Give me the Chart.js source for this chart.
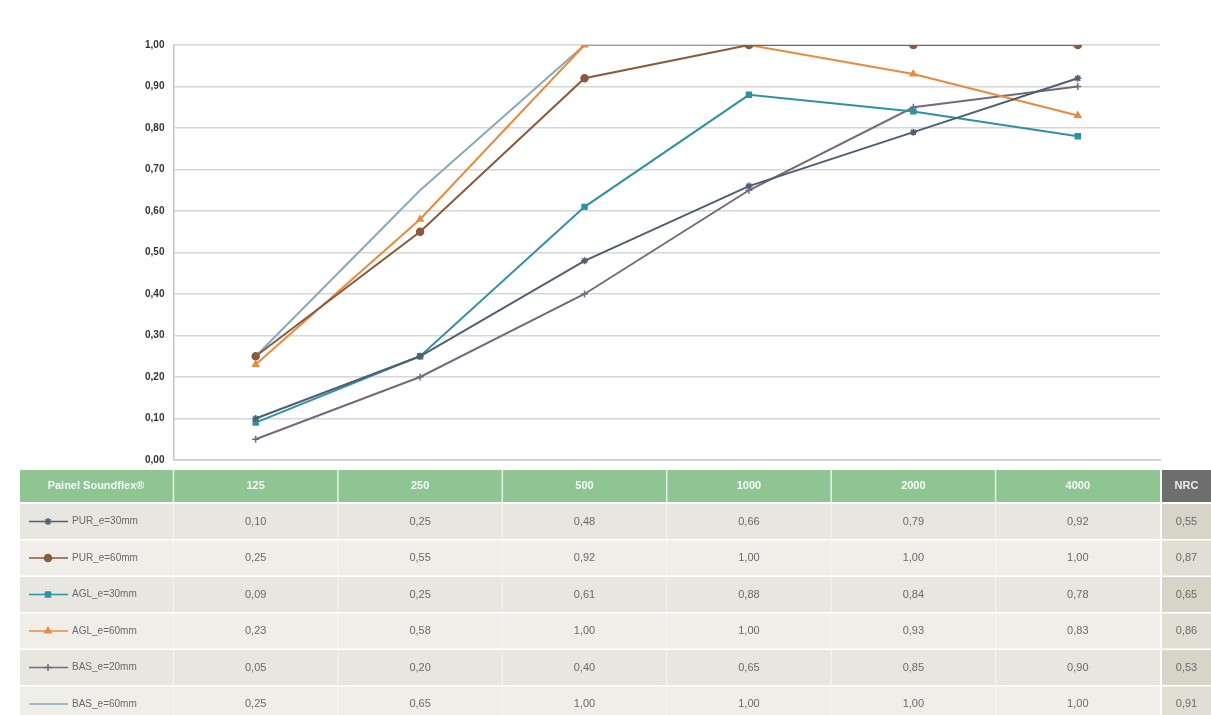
<!DOCTYPE html>
<html>
<head>
<meta charset="utf-8">
<script src="https://cdn.jsdelivr.net/npm/chart.js@4.4.1/dist/chart.umd.min.js"></script>
<style>
  html, body { margin: 0; padding: 0; background: #ffffff; }
  #wrap { position: relative; width: 1211px; height: 715px; }
</style>
</head>
<body>
<div id="wrap"><canvas id="chart"></canvas></div>
<script>
// Frequencies (Hz)
const frequencies = ['125', '250', '500', '1000', '2000', '4000'];

// Absorption coefficients
const pur30 = [0.10, 0.25, 0.48, 0.66, 0.79, 0.92];
const pur60 = [0.25, 0.55, 0.92, 1.00, 1.00, 1.00];
const agl30 = [0.09, 0.25, 0.61, 0.88, 0.84, 0.78];
const agl60 = [0.23, 0.58, 1.00, 1.00, 0.93, 0.83];
const bas20 = [0.05, 0.20, 0.40, 0.65, 0.85, 0.90];
const bas60 = [0.25, 0.65, 1.00, 1.00, 1.00, 1.00];

// NRC values
const nrcValues = [0.55, 0.87, 0.65, 0.86, 0.53, 0.91];

const seriesNames = ['PUR_e=30mm', 'PUR_e=60mm', 'AGL_e=30mm', 'AGL_e=60mm', 'BAS_e=20mm', 'BAS_e=60mm'];
const seriesColors = ['#4d6072', '#8a5a3e', '#2f91a3', '#ea8a3c', '#76697f', '#86aabb'];
const seriesMarkers = ['star', 'circle', 'rect', 'triangle', 'cross', false];
const seriesValues = [pur30, pur60, agl30, agl60, bas20, bas60];

const fmt = v => v.toFixed(2).replace('.', ',');

// Draws the data table under the plot, columns aligned to the x scale
const tablePlugin = {
    id: 'dataTable',
    afterDraw(chart) {
        const ctx = chart.ctx;
        const xs = chart.scales.x;
        const area = chart.chartArea;
        const colW = (area.right - area.left) / frequencies.length;
        const headTop = 470, headH = 32, rowTop = 504, rowH = 36.5;

        ctx.save();
        // header
        ctx.fillStyle = '#8fc592';
        ctx.fillRect(20, headTop, area.right - 20, headH);
        ctx.fillStyle = '#6e6e6e';
        ctx.fillRect(area.right + 2, headTop, 1211 - area.right - 2, headH);
        ctx.strokeStyle = '#e8f3e8';
        ctx.lineWidth = 1.5;
        for (let i = 0; i < frequencies.length; i++) {
            const x = xs.getPixelForValue(i) - colW / 2;
            ctx.beginPath();
            ctx.moveTo(x, headTop);
            ctx.lineTo(x, headTop + headH);
            ctx.stroke();
        }
        ctx.textAlign = 'center';
        ctx.textBaseline = 'middle';
        ctx.font = 'bold 11px "Liberation Sans", Arial, sans-serif';
        ctx.fillStyle = '#f4fbf4';
        ctx.fillText('Painel Soundflex®', 96, headTop + headH / 2);
        frequencies.forEach((f, i) => {
            ctx.fillText(f, xs.getPixelForValue(i), headTop + headH / 2);
        });
        ctx.fillStyle = '#eeeeee';
        ctx.fillText('NRC', (area.right + 2 + 1211) / 2, headTop + headH / 2);

        // rows
        seriesNames.forEach((name, r) => {
            const y = rowTop + r * rowH;
            const h = rowH - 1.5;
            ctx.fillStyle = r % 2 === 0 ? '#e7e6df' : '#efeee9';
            ctx.fillRect(20, y, area.right - 20, h);
            ctx.fillStyle = r % 2 === 0 ? '#d7d5c7' : '#e1dfd3';
            ctx.fillRect(area.right + 2, y, 1211 - area.right - 2, h);

            // column separators
            ctx.strokeStyle = '#f6f6f2';
            ctx.lineWidth = 1;
            for (let i = 0; i < frequencies.length; i++) {
                const x = xs.getPixelForValue(i) - colW / 2;
                ctx.beginPath();
                ctx.moveTo(x, y);
                ctx.lineTo(x, y + h);
                ctx.stroke();
            }

            // legend sample
            const cy = y + h / 2;
            ctx.strokeStyle = seriesColors[r];
            ctx.lineWidth = 1.5;
            ctx.beginPath();
            ctx.moveTo(29, cy);
            ctx.lineTo(68, cy);
            ctx.stroke();
            if (seriesMarkers[r]) {
                ctx.fillStyle = seriesColors[r];
                ctx.strokeStyle = seriesColors[r];
                Chart.helpers.drawPoint(ctx, {
                    pointStyle: seriesMarkers[r], radius: 3.5, borderWidth: 1.5
                }, 48, cy);
            }
            ctx.fillStyle = '#6a6a6a';
            ctx.textAlign = 'left';
            ctx.font = '10px "Liberation Sans", Arial, sans-serif';
            ctx.fillText(name, 72, cy);

            ctx.textAlign = 'center';
            ctx.font = '11px "Liberation Sans", Arial, sans-serif';
            ctx.fillStyle = '#6a6a6a';
            seriesValues[r].forEach((v, i) => {
                ctx.fillText(fmt(v), xs.getPixelForValue(i), cy);
            });
            ctx.fillText(fmt(nrcValues[r]), (area.right + 2 + 1211) / 2, cy);
        });
        ctx.restore();
    }
};

const datasets = seriesNames.map((name, i) => ({
    label: name,
    data: seriesValues[i],
    borderColor: seriesColors[i],
    backgroundColor: seriesColors[i],
    borderWidth: 2,
    tension: 0,
    pointStyle: seriesMarkers[i] || 'circle',
    pointRadius: seriesMarkers[i] ? 3.5 : 0,
    pointBorderWidth: 1.5
}));

new Chart(document.getElementById('chart'), {
    type: 'line',
    data: { labels: frequencies, datasets: datasets },
    plugins: [tablePlugin],
    options: {
        responsive: true,
        maintainAspectRatio: false,
        animation: false,
        layout: { padding: { top: 45, right: 51, bottom: 247, left: 136 } },
        plugins: {
            legend: { display: false },
            tooltip: { enabled: false }
        },
        scales: {
            x: {
                offset: true,
                grid: { display: false },
                border: { display: true, color: '#cccccc', width: 1.5 },
                ticks: { display: false }
            },
            y: {
                min: 0,
                max: 1,
                grid: { color: '#d6d6d6', lineWidth: 1.5, drawTicks: false },
                border: { display: true, color: '#c6c6c6', width: 1.5 },
                ticks: {
                    stepSize: 0.1,
                    padding: 9,
                    color: '#333333',
                    font: { family: '"Liberation Sans Narrow", "Liberation Sans", Arial', size: 10, weight: 'bold' },
                    callback: v => fmt(v)
                }
            }
        }
    }
});
</script>
</body>
</html>
